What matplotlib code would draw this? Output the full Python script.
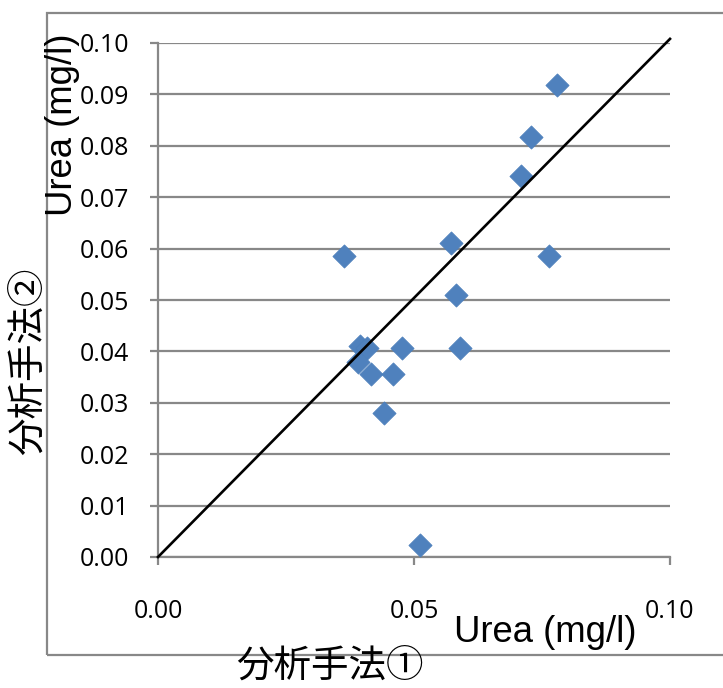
import matplotlib
matplotlib.use("Agg")
import matplotlib.pyplot as plt
from matplotlib.patches import Rectangle
from matplotlib.ticker import FormatStrFormatter

# Data (method 1 vs method 2, Urea mg/l)
method1 = [0.0779, 0.0729, 0.0709, 0.0764, 0.0572, 0.0363, 0.0582, 0.0590,
           0.0477, 0.0395, 0.0408, 0.0391, 0.0416, 0.0459, 0.0441, 0.0512]
method2 = [0.0918, 0.0817, 0.0741, 0.0586, 0.0611, 0.0586, 0.0510, 0.0407,
           0.0407, 0.0411, 0.0407, 0.0379, 0.0356, 0.0356, 0.0280, 0.0023]
line_x = [0.0, 0.1]
line_y = [0.0, 0.1008]
xticks = [0.00, 0.05, 0.10]
yticks = [0.00, 0.01, 0.02, 0.03, 0.04, 0.05, 0.06, 0.07, 0.08, 0.09, 0.10]

W, H = 723, 688
fig = plt.figure(figsize=(W / 100, H / 100), dpi=100)
ax = fig.add_axes([158 / W, 1 - 557 / H, (670 - 158) / W, (557 - 43) / H])

grid_col = "#888888"
ax.set_xlim(0, 0.10)
ax.set_ylim(0, 0.10)
ax.set_xticks(xticks)
ax.set_yticks(yticks)
ax.xaxis.set_major_formatter(FormatStrFormatter("%.2f"))
ax.yaxis.set_major_formatter(FormatStrFormatter("%.2f"))
ax.yaxis.grid(True, color=grid_col, linewidth=1.6)
ax.set_axisbelow(True)
for s in ["top", "right"]:
    ax.spines[s].set_visible(False)
for s in ["left", "bottom"]:
    ax.spines[s].set_color(grid_col)
    ax.spines[s].set_linewidth(1.6)
ax.tick_params(axis="y", direction="out", length=6, width=1.6, color=grid_col,
               pad=15, labelsize=18)
ax.tick_params(axis="x", direction="out", length=6, width=1.6, color=grid_col,
               pad=24, labelsize=18)
for lab in ax.get_xticklabels() + ax.get_yticklabels():
    lab.set_fontfamily("Open Sans")

ax.scatter(method1, method2, marker="D", s=140, color="#4F81BD",
           edgecolors="#4A7EBB", linewidths=0.5, zorder=3)
ax.plot(line_x, line_y, color="black", linewidth=1.9, clip_on=False, zorder=4)

# outer chart frame
fig.patches.append(Rectangle((47 / W, 1 - 655 / H), 1.0, (655 - 13) / H,
                             transform=fig.transFigure, fill=False,
                             edgecolor=grid_col, linewidth=1.6, zorder=0))

lab_font = ["Liberation Sans", "DejaVu Sans"]
cjk_font = ["Noto Sans CJK JP", "DejaVu Sans"]
fig.text(545 / W, 1 - 632 / H, "Urea (mg/l)", fontsize=26.3, family=lab_font,
         ha="center", va="center")
fig.text(330 / W, 1 - 666 / H, "分析手法①", fontsize=27, family=cjk_font,
         ha="center", va="center")
fig.text(62 / W, 1 - 125 / H, "Urea (mg/l)", fontsize=26.3, family=lab_font,
         ha="center", va="center", rotation=90)
fig.text(28 / W, 1 - 361 / H, "分析手法②", fontsize=27, family=cjk_font,
         ha="center", va="center", rotation=90)

fig.savefig("out.png", dpi=100)
